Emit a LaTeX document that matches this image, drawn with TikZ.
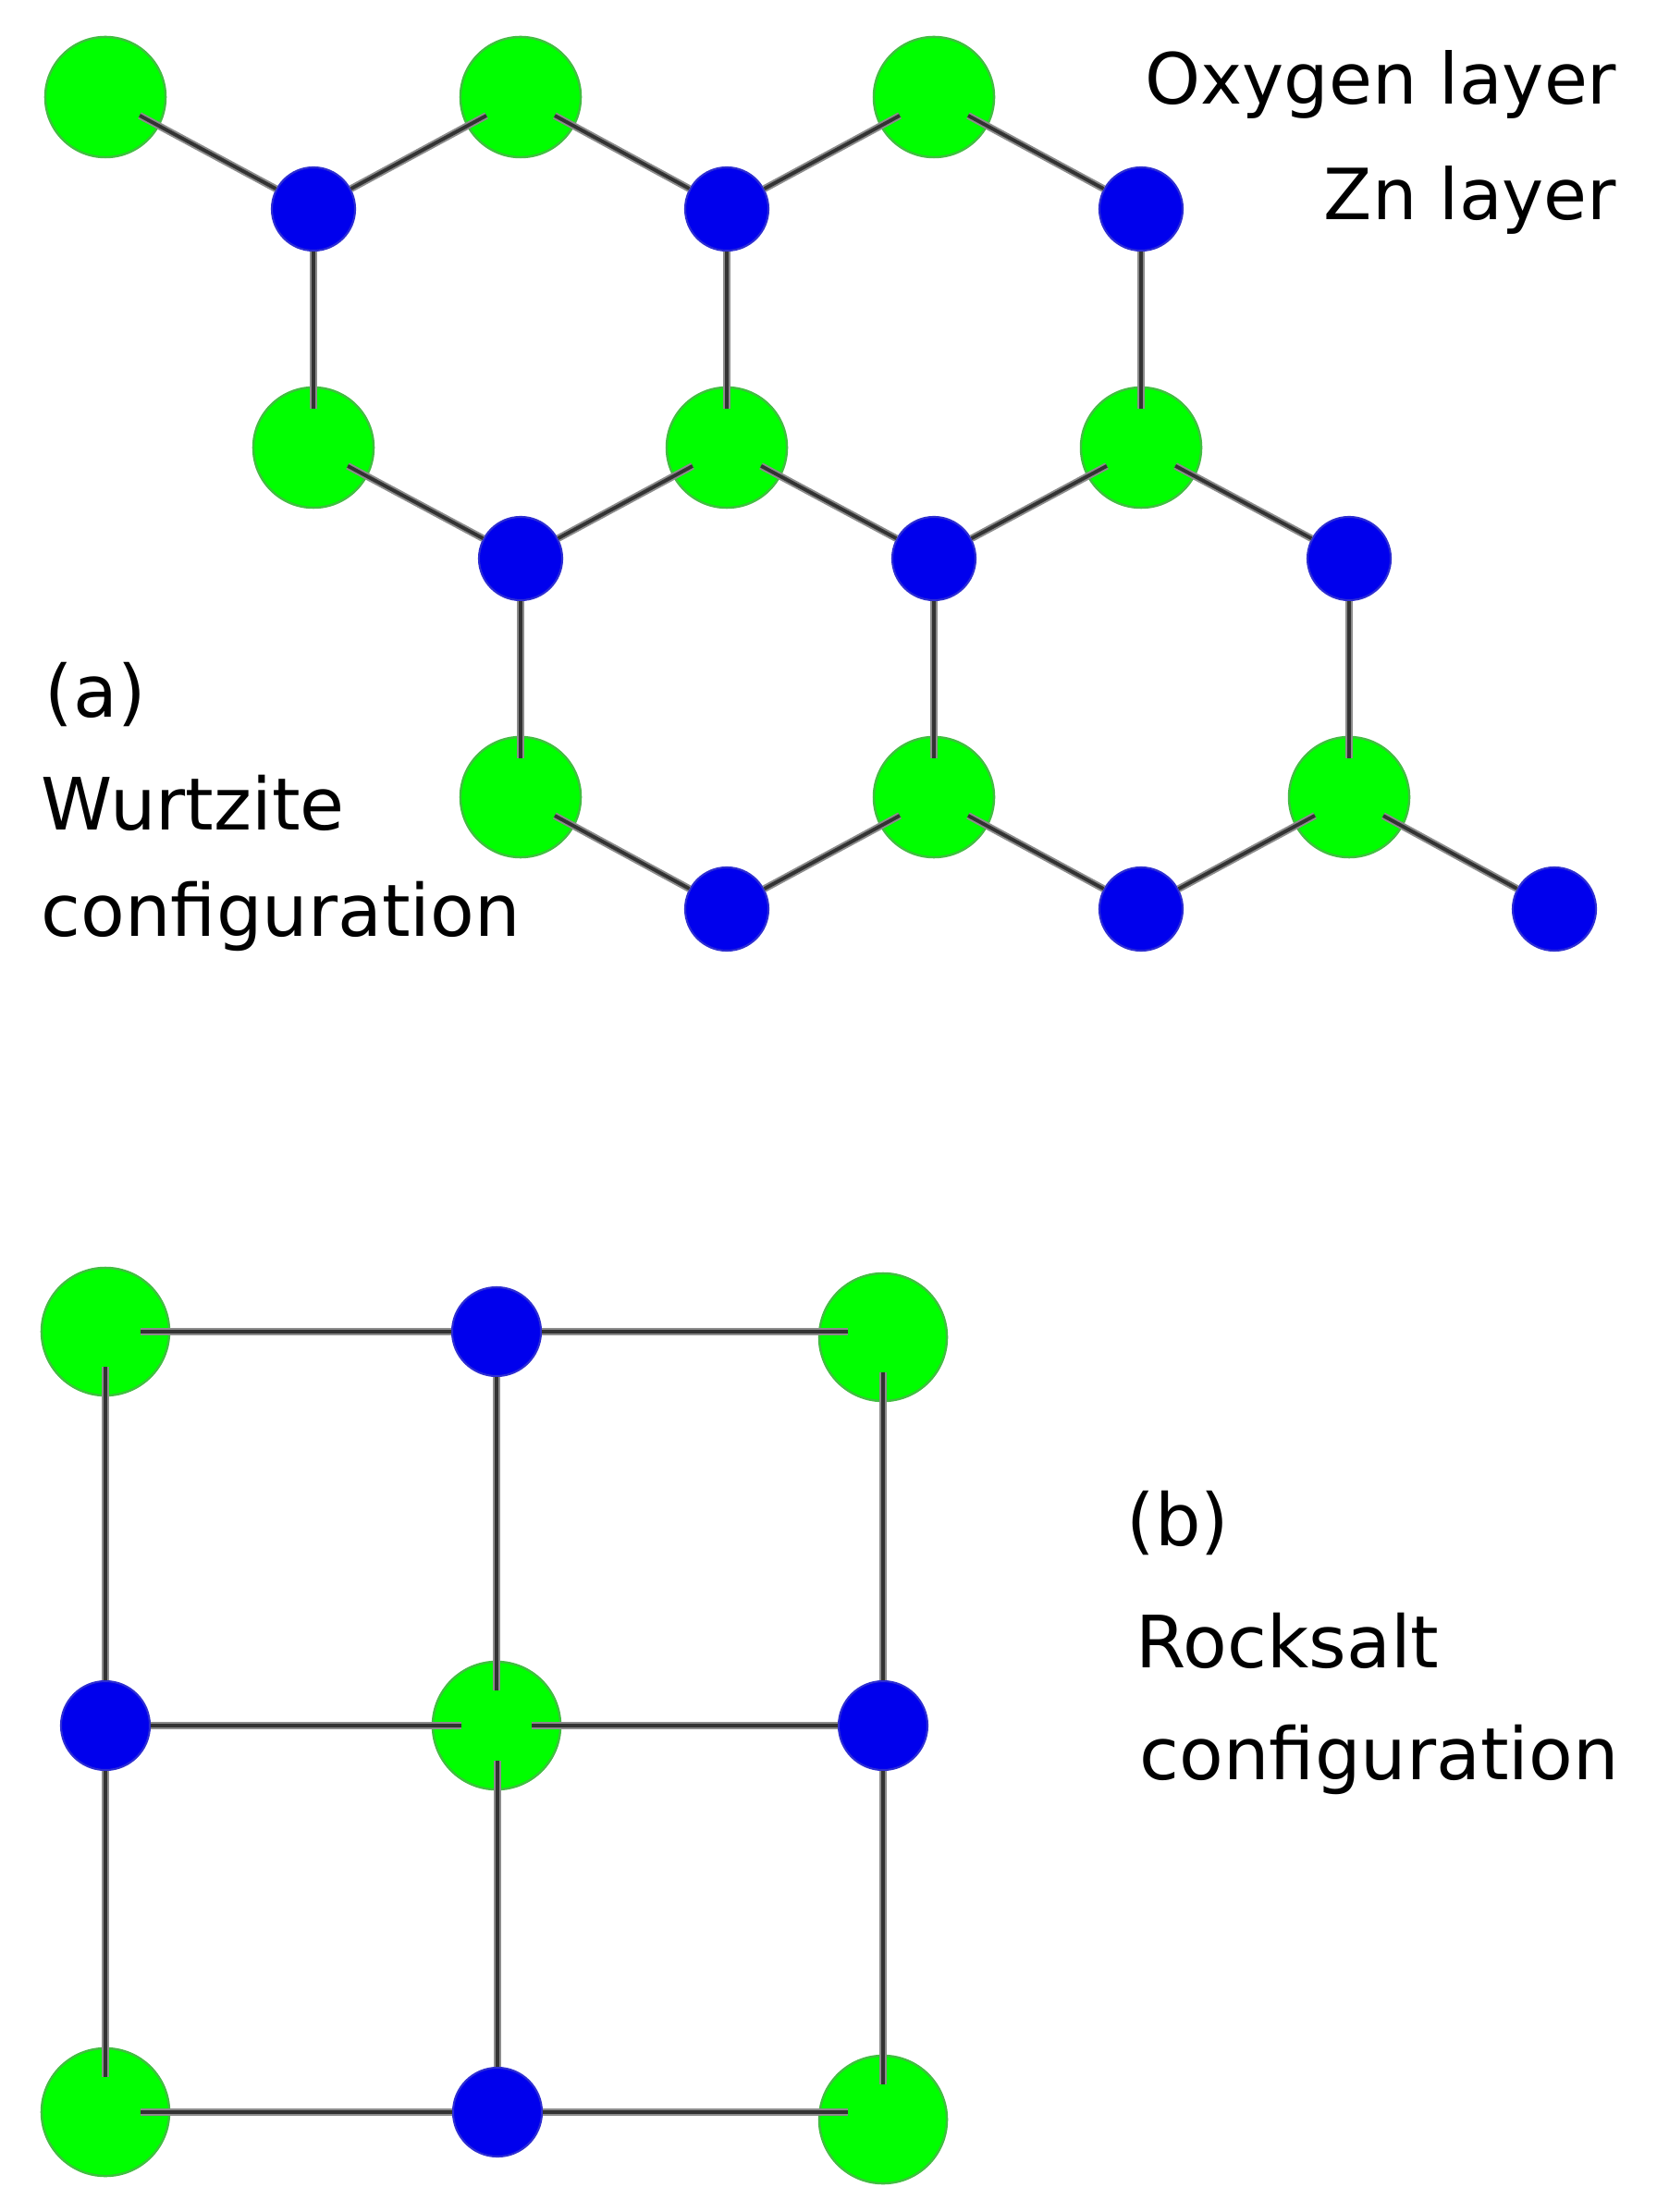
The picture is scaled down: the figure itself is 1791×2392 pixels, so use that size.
\documentclass[tikz,border=0pt]{standalone}
\usepackage{fontspec}
\setmainfont{DejaVu Sans}
\definecolor{oxygreen}{rgb}{0,1,0}
\definecolor{znblue}{rgb}{0,0,0.93}
\tikzset{
  oxy/.style={circle,fill=oxygreen,draw=green!50!gray,line width=0.7pt,inner sep=0pt,minimum size=1.3cm},
  bigoxy/.style={oxy,minimum size=1.38cm},
  zn/.style={circle,fill=znblue,draw=blue!65!gray,line width=0.6pt,inner sep=0pt,minimum size=0.9cm},
  bigzn/.style={zn,minimum size=0.96cm},
  bond/.style={black!80,line width=1.1pt,shorten >=0.42cm,preaction={draw,black!45,line width=2.2pt,shorten >=0.42cm}},
  bondb/.style={bond,shorten >=0.38cm,preaction={draw,black!45,line width=2.2pt,shorten >=0.38cm}},
  lab/.style={anchor=base west,inner sep=0pt,font=\fontsize{22.2}{26}\selectfont},
  labr/.style={anchor=base east,inner sep=0pt,font=\fontsize{21.7}{26}\selectfont}
}
\begin{document}
\begin{tikzpicture}[x=0.01cm,y=-0.01cm]
\useasboundingbox (0,0) rectangle (1791,2392);
\foreach \n/\x/\y in {a1/114/105,a2/563/105,a3/1010/105,b1/339/484,b2/786/484,b3/1234/484,c1/563/862,c2/1010/862,c3/1459/862}
  \node[oxy] (\n) at (\x,\y) {};
\foreach \n/\x/\y in {p1/339/226,p2/786/226,p3/1234/226,q1/563/604,q2/1010/604,q3/1459/604,r1/786/983,r2/1234/983,r3/1681/983}
  \node[zn] (\n) at (\x,\y) {};
\foreach \s/\t in {p1/a1,p1/a2,p2/a2,p2/a3,p3/a3,p1/b1,p2/b2,p3/b3,q1/b1,q1/b2,q2/b2,q2/b3,q3/b3,q1/c1,q2/c2,q3/c3,r1/c1,r1/c2,r2/c2,r2/c3,r3/c3}
  \draw[bond] (\s) -- (\t.center);
\node[labr] (oxylab) at (1749,113) {Oxygen layer};
\node[labr] (znlab) at (1749,238) {Zn layer};
\node[lab] (alab) at (48,776) {(a)};
\node[lab] (wlab) at (44,898) {Wurtzite};
\node[lab] (wconf) at (44,1012) {configuration};
\foreach \n/\x/\y in {g1/114/1440,g2/955/1446,g3/537/1866,g4/114/2284,g5/955/2292}
  \node[bigoxy] (\n) at (\x,\y) {};
\foreach \n/\x/\y in {z1/537/1440,z2/114/1866,z3/955/1866,z4/538/2284}
  \node[bigzn] (\n) at (\x,\y) {};
\foreach \s/\t in {z1/g1,z1/g2,z2/g3,z3/g3,z4/g4,z4/g5}
  \draw[bondb] (\s) -- (\s -| \t);
\foreach \s/\t in {z1/g3,z4/g3,z2/g1,z2/g4,z3/g2,z3/g5}
  \draw[bondb] (\s) -- (\s |- \t);
\node[lab] (blab) at (1218,1671) {(b)};
\node[lab] (rlab) at (1228,1803) {Rocksalt};
\node[lab] (rconf) at (1232,1924) {configuration};
\end{tikzpicture}
\end{document}
